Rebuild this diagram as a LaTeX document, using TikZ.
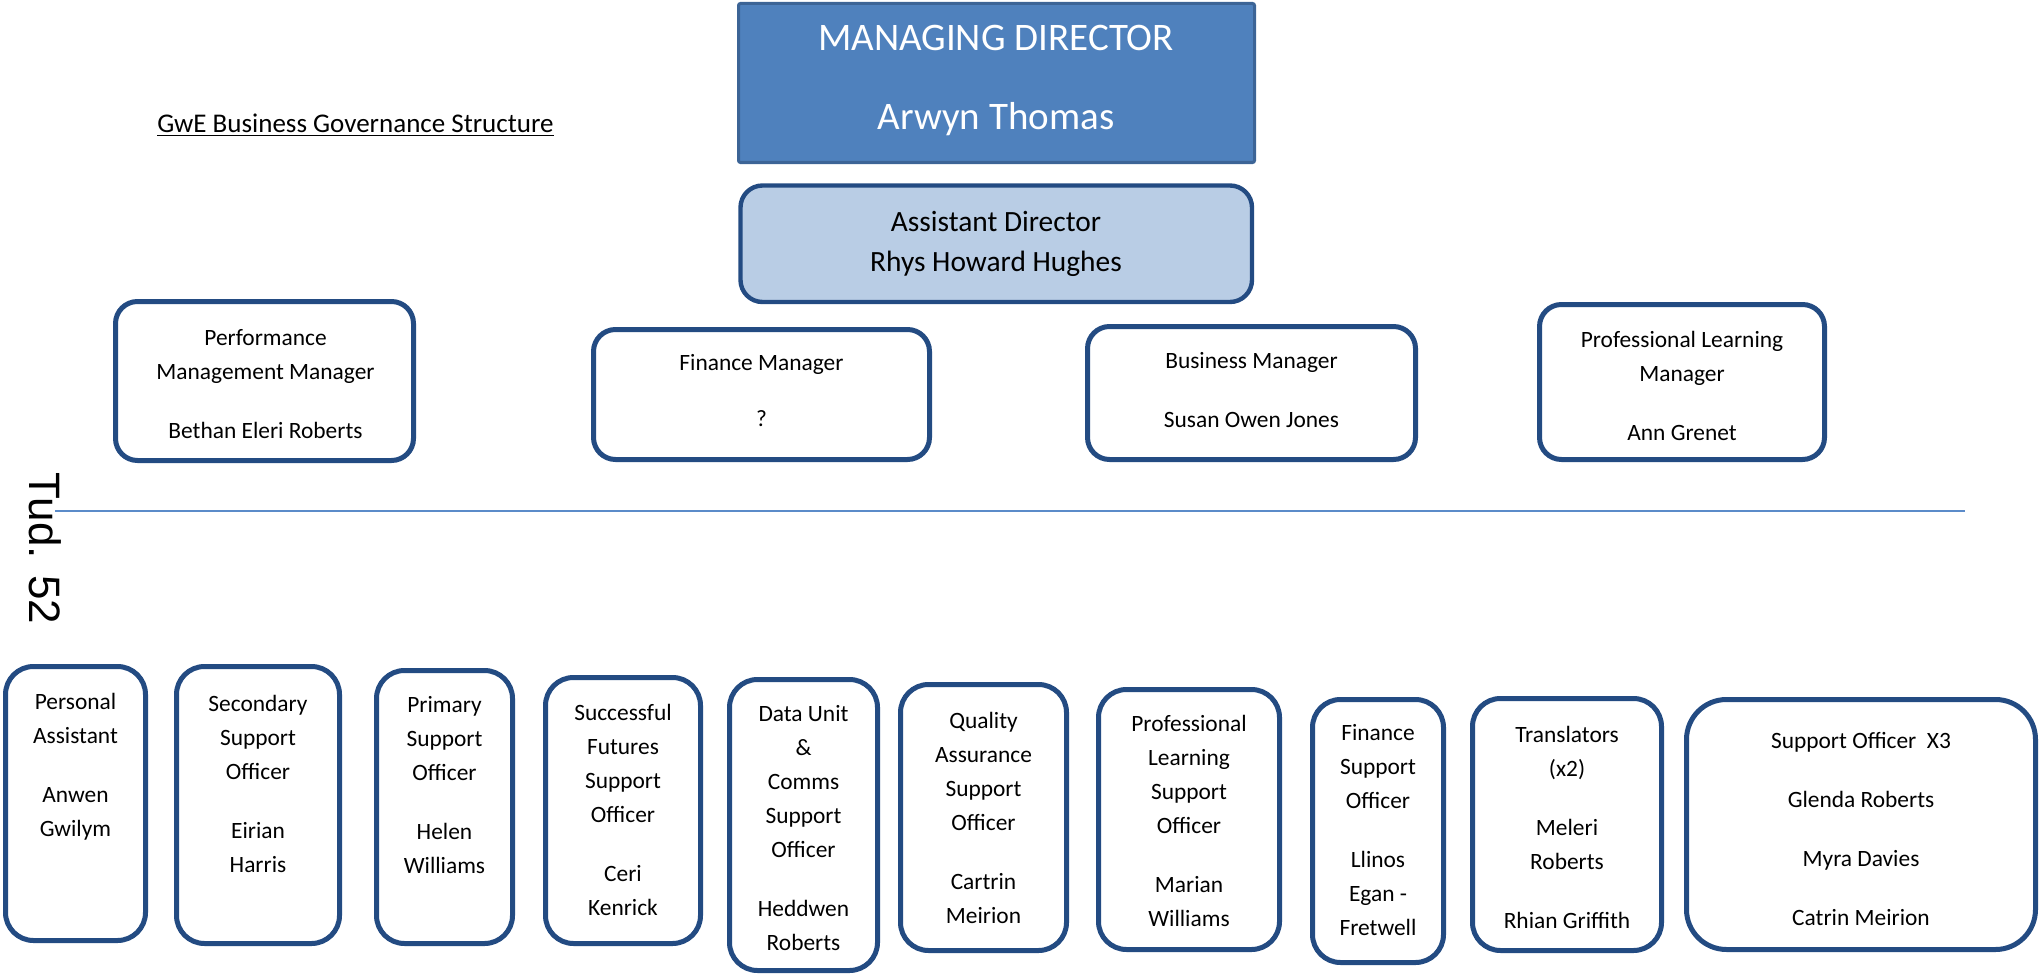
\documentclass[tikz,border=0pt]{standalone}
\usepackage{fontspec}
\setmainfont{Carlito}
\newfontfamily\arialf{Liberation Sans}
\usetikzlibrary{fit,calc}
\definecolor{boxblue}{HTML}{234B82}
\definecolor{mdfill}{HTML}{4F81BD}
\definecolor{mdline}{HTML}{3C6496}
\definecolor{adfill}{HTML}{B9CDE5}
\definecolor{rulecol}{HTML}{5B8BC9}
\tikzset{
  orgframe/.style={draw=boxblue, line width=2.5pt, inner sep=0pt},
  boxtext/.style={font=\fontsize{11.7}{17}\selectfont, align=center, inner sep=0pt, anchor=north},
}
\newcommand\orgbox[6]{%
  \coordinate (#1-nw) at (#2+2.5,#3+2.5);
  \coordinate (#1-se) at (#4-2.5,#5-2.5);
  \node[orgframe, fit=(#1-nw)(#1-se), rounded corners=#6pt] (#1) {};
}
\newcommand\orgtext[4]{%
  \node[boxtext] (#1) at (#2,#3) {\strut #4};
}
\begin{document}
\begin{tikzpicture}[x=0.5pt,y=-0.5pt]
\useasboundingbox (0,0) rectangle (2040,974);

% title
\node[font=\fontsize{13.5}{16}\selectfont, anchor=base west, inner sep=0pt] (title) at (157,132.5) {\underline{GwE Business Governance Structure}};

% managing director
\coordinate (md-nw) at (738.5,3.5);
\coordinate (md-se) at (1254.5,162.5);
\node[fit=(md-nw)(md-se), inner sep=0pt, fill=mdfill, draw=mdline, line width=1.5pt, rounded corners=1pt] (md) {};
\node[font=\fontsize{19.5}{23}\selectfont, text=white, anchor=base, inner sep=0pt] (mdt1) at (996,50.5) {MANAGING DIRECTOR};
\node[font=\fontsize{19.5}{23}\selectfont, text=white, anchor=base, inner sep=0pt] (mdt2) at (996,130) {Arwyn Thomas};

% assistant director
\coordinate (ad-nw) at (740.5,185.5);
\coordinate (ad-se) at (1252,302);
\node[fit=(ad-nw)(ad-se), inner sep=0pt, fill=adfill, draw=boxblue, line width=2.2pt, rounded corners=11pt] (ad) {};
\node[font=\fontsize{14.7}{18}\selectfont, anchor=base, inner sep=0pt] (adt1) at (996,231) {Assistant Director};
\node[font=\fontsize{14.7}{18}\selectfont, anchor=base, inner sep=0pt] (adt2) at (996,271) {Rhys Howard Hughes};

% managers
\orgbox{perf}{113}{299}{416}{463}{11}
\orgtext{perft}{265.5}{321}{Performance\\Management Manager\\[12.5pt]Bethan Eleri Roberts}
\orgbox{fin}{591}{327}{932}{462}{11}
\orgtext{fint}{761.5}{346}{Finance Manager\\[11pt]?}
\orgbox{bus}{1085}{324}{1418}{462}{11}
\orgtext{bust}{1251.5}{344}{Business Manager\\[12.5pt]Susan Owen Jones}
\orgbox{pl}{1537}{302}{1827}{462}{11}
\orgtext{plt}{1682}{323}{Professional Learning\\Manager\\[12.5pt]Ann Grenet}

% rule line
\coordinate (rule-l) at (55,511);
\coordinate (rule-r) at (1965,511);
\draw[rulecol, line width=1pt] (rule-l) -- (rule-r);

% page label
\node[font=\arialf\fontsize{22}{26}\selectfont, rotate=-90, inner sep=0pt] (tud) at (45.5,548.5) {Tud. 52};

% bottom row
\orgbox{pa}{3}{664}{148}{943}{14}
\orgtext{pat}{75.5}{685}{Personal\\Assistant\\[12.5pt]Anwen\\Gwilym}
\orgbox{sec}{174}{664}{342}{946}{14}
\orgtext{sect}{258}{687}{Secondary\\Support\\Officer\\[12.5pt]Eirian\\Harris}
\orgbox{pri}{374}{668}{515}{946}{14}
\orgtext{prit}{444.5}{688}{Primary\\Support\\Officer\\[12.5pt]Helen\\Williams}
\orgbox{sf}{543}{675}{703}{946}{14}
\orgtext{sft}{623}{696}{Successful\\Futures\\Support\\Officer\\[12.5pt]Ceri\\Kenrick}
\orgbox{du}{727}{677}{880}{973}{14}
\orgtext{dut}{803.5}{697}{Data Unit\\\&\\Comms\\Support\\Officer\\[12.5pt]Heddwen\\Roberts}
\orgbox{qa}{898}{682}{1069}{953}{14}
\orgtext{qat}{983.5}{704}{Quality\\Assurance\\Support\\Officer\\[12.5pt]Cartrin\\Meirion}
\orgbox{pls}{1096}{687}{1282}{952}{14}
\orgtext{plst}{1189}{707}{Professional\\Learning\\Support\\Officer\\[12.5pt]Marian\\Williams}
\orgbox{fso}{1310}{697}{1446}{965}{14}
\orgtext{fsot}{1378}{716}{Finance\\Support\\Officer\\[12.5pt]Llinos\\Egan -\\Fretwell}
\orgbox{tr}{1470}{696}{1664}{953}{14}
\orgtext{trt}{1567}{718}{Translators\\(x2)\\[12.5pt]Meleri\\Roberts\\[12.5pt]Rhian Griffith}
\orgbox{so}{1684}{697}{2038}{952}{20}
\orgtext{sot}{1861}{724}{Support Officer~~X3\\[12.5pt]Glenda Roberts\\[12.5pt]Myra Davies\\[12.5pt]Catrin Meirion}
\end{tikzpicture}
\end{document}
